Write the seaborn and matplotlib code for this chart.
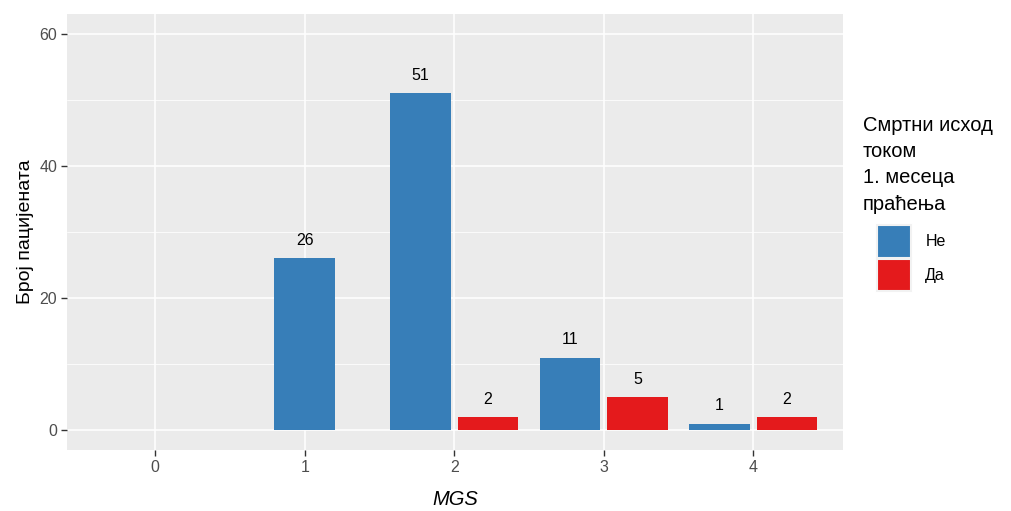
import numpy as np
import pandas as pd
import matplotlib
matplotlib.use("Agg")
import matplotlib.pyplot as plt
from matplotlib.patches import Patch
from matplotlib.ticker import MultipleLocator
import seaborn as sns

# Patient counts by MGS score and 1-month mortality outcome
mgs_levels = [0, 1, 2, 3, 4]
outcome_levels = ["Не", "Да"]
mgs = [1, 2, 2, 3, 3, 4, 4]
outcome = ["Не", "Не", "Да", "Не", "Да", "Не", "Да"]
counts = [26, 51, 2, 11, 5, 1, 2]
palette = {"Не": "#377EB8", "Да": "#E41A1C"}
legend_title = "Смртни исход\nтоком\n1. месеца\nпраћења"

df = pd.DataFrame({"mgs": mgs, "outcome": outcome, "count": counts})

# Dodge bars within each MGS value; a lone bar stays centred on its tick
slot = 0.45
positions = []
for m, sub in df.groupby("mgs", sort=False):
    n = len(sub)
    offs = (np.arange(n) - (n - 1) / 2) * slot
    positions.extend(m + offs)
df["pos"] = positions

sns.set_theme(style="darkgrid")
plt.rcParams["font.family"] = ["Liberation Sans", "DejaVu Sans"]

fig, ax = plt.subplots(figsize=(10.12, 5.11), dpi=100)
fig.subplots_adjust(left=67 / 1012, right=843 / 1012, top=1 - 14 / 511, bottom=1 - 450 / 511)

sns.barplot(data=df, x="pos", y="count", hue="outcome", hue_order=outcome_levels,
            palette=palette, native_scale=True, dodge=False, width=0.9,
            saturation=1, linewidth=0, legend=False, ax=ax)

for p, v in zip(df["pos"], df["count"]):
    ax.annotate(str(v), (p, v), xytext=(0, 7.5), textcoords="offset points",
                ha="center", va="bottom", fontsize=11.5, color="black")

ax.set_facecolor("#EBEBEB")
ax.set_xlim(-0.59, 4.6)
ax.set_ylim(-3, 63)
ax.set_xticks(mgs_levels)
ax.set_xticklabels([str(m) for m in mgs_levels])
ax.set_yticks([0, 20, 40, 60])
ax.yaxis.set_minor_locator(MultipleLocator(10))
ax.grid(which="major", color="white", linewidth=1.1)
ax.grid(which="minor", axis="y", color="white", linewidth=0.55)
ax.grid(which="minor", axis="x", visible=False)
ax.set_axisbelow(True)
for s in ax.spines.values():
    s.set_visible(False)
ax.tick_params(axis="both", which="major", length=4, width=1.0, color="#333333",
               labelsize=11.5, labelcolor="#4D4D4D", pad=3, bottom=True, left=True)
ax.tick_params(axis="both", which="minor", length=0)

ax.set_xlabel("MGS", fontsize=14.5, fontstyle="italic", color="black", labelpad=11)
ax.set_ylabel("Број пацијената", fontsize=14, color="black", labelpad=4)

# Legend: title on its own, keys indented beneath it
fig.text(863 / 1012, 1 - 116 / 511, legend_title, ha="left", va="top",
         fontsize=14.5, color="black", linespacing=1.48)
handles = [Patch(facecolor=palette[o], edgecolor="#F2F2F2", linewidth=1.5, label=o)
           for o in outcome_levels]
fig.legend(handles=handles, loc="upper left",
           bbox_to_anchor=(863 / 1012, 1 - 211 / 511),
           frameon=False, fontsize=11.5, labelcolor="black",
           handlelength=2.1, handleheight=2.75, labelspacing=0.05,
           handletextpad=0.9, borderpad=0.4)

fig.savefig("out.png", dpi=100, facecolor="white")
